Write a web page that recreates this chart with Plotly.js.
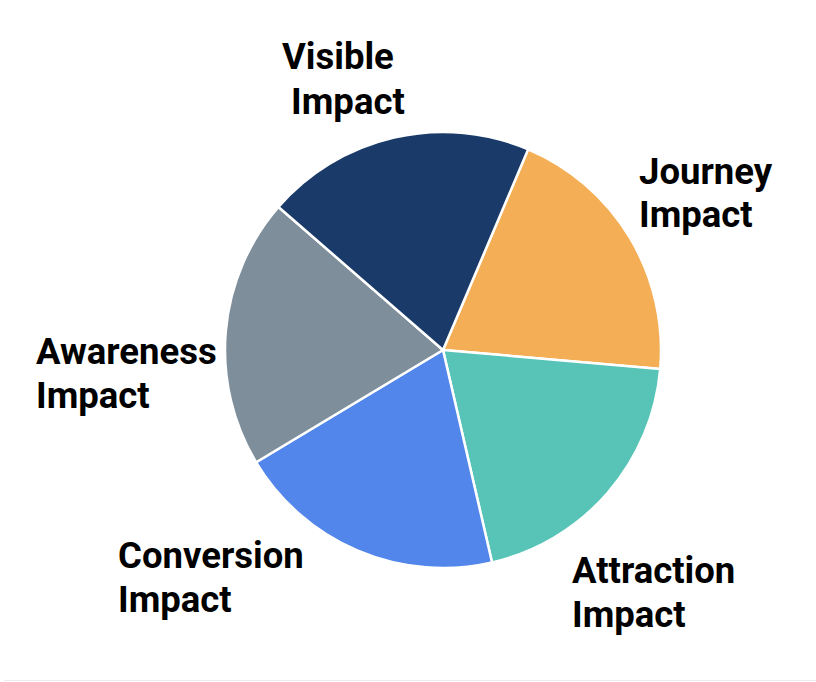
<!DOCTYPE html>
<html>
<head>
<meta charset="utf-8">
<script src="https://cdn.plot.ly/plotly-3.0.1.min.js"></script>
<style>
  html, body { margin: 0; padding: 0; background: #fff; }
  #chart { width: 816px; height: 682px; }
  #rule { position: absolute; left: 4px; top: 680px; width: 812px; height: 1px; background: #ebebeb; }
</style>
</head>
<body>
<div id="chart"></div>
<div id="rule"></div>
<script>
// Data
const categories = ["Journey Impact", "Attraction Impact", "Conversion Impact", "Awareness Impact", "Visible Impact"];
const values = [20, 20, 20, 20, 20];
const colors = ["#f4ae56", "#57c4b7", "#5286eb", "#7f8e9b", "#1a3a69"];

// Layout helpers (pixel geometry)
const W = 816, H = 682;
const cx = 443, cy = 350, R = 218;
const px = x => x / W;
const py = y => 1 - y / H;

// label block positions: left edge and cap-top of first line (pixels)
const labelPos = {
  "Journey Impact":    [640, 157],
  "Attraction Impact": [573, 556],
  "Conversion Impact": [119, 541],
  "Awareness Impact":  [37, 337],
  "Visible Impact":    [283, 43]
};

const fontSize = 36.5;
const capOffset = 9.5;
const lineGap = 44;

const annotations = [];
categories.forEach(c => {
  const [lx, ly] = labelPos[c];
  const parts = c.split(" ");
  parts.forEach((p, i) => {
    const txt = (c === "Visible Impact" && i === 1) ? "\u00a0" + p : p;
    annotations.push({
      text: txt,
      xref: "paper", yref: "paper",
      x: px(lx - 3), y: py(ly - capOffset + i * lineGap),
      xanchor: "left", yanchor: "top",
      align: "left",
      showarrow: false,
      font: { family: "Roboto, 'Open Sans', sans-serif", size: fontSize, color: "#000000", weight: 700 }
    });
  });
});

const trace = {
  type: "pie",
  labels: categories,
  values: values,
  sort: false,
  direction: "clockwise",
  rotation: 23,
  textinfo: "none",
  hoverinfo: "none",
  marker: { colors: colors, line: { color: "#ffffff", width: 2.5 } },
  domain: { x: [px(cx - R), px(cx + R)], y: [py(cy + R), py(cy - R)] },
  showlegend: false
};

const layout = {
  width: W, height: H,
  margin: { l: 0, r: 0, t: 0, b: 0 },
  paper_bgcolor: "#ffffff",
  plot_bgcolor: "#ffffff",
  showlegend: false,
  annotations: annotations
};

Plotly.newPlot("chart", [trace], layout, { displayModeBar: false, staticPlot: true });
</script>
</body>
</html>
